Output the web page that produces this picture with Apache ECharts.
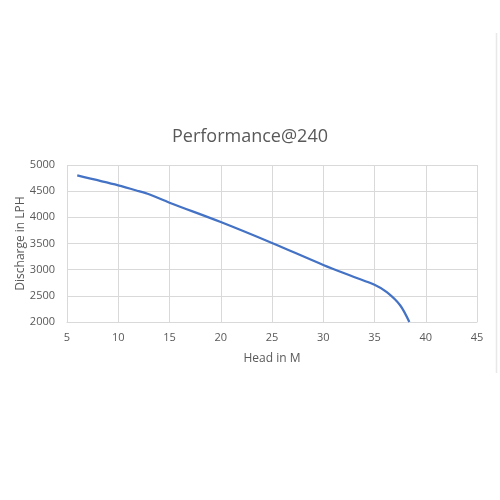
<!DOCTYPE html>
<html><head><meta charset="utf-8">
<script src="https://cdn.jsdelivr.net/npm/echarts@6/dist/echarts.min.js"></script>
<style>html,body{margin:0;padding:0;background:#fff;}#c{width:500px;height:500px;}</style>
</head><body><div id="c"></div>
<script>
const headM = [6, 10, 12, 13, 15, 20, 25, 30, 33, 35, 36.2, 37.5, 38.4];
const dischargeLPH = [4800, 4610, 4500, 4440, 4280, 3910, 3510, 3090, 2860, 2710, 2570, 2320, 2000];
const titleText = 'Performance@240';
const xName = 'Head in M';
const yName = 'Discharge in LPH';

const chart = echarts.init(document.getElementById('c'));
const font = '"Open Sans", "Liberation Sans", sans-serif';
chart.setOption({
  animation: false,
  backgroundColor: '#fff',
  title: { text: titleText, left: 'center', top: 123, textStyle: { fontFamily: font, fontSize: 18, fontWeight: 'normal', color: '#595959' } },
  grid: { left: 67, right: 23, top: 165, bottom: 178, containLabel: false, outerBoundsMode: 'none' },
  graphic: [{
    type: 'line', silent: true,
    shape: { x1: 496.5, y1: 33, x2: 496.5, y2: 373 },
    style: { stroke: '#e8e8e8', lineWidth: 1.5 }
  }],
  xAxis: {
    type: 'value', min: 5, max: 45, interval: 5,
    name: xName, nameLocation: 'middle', nameGap: 31, nameMoveOverlap: false,
    nameTextStyle: { fontFamily: font, fontSize: 12, color: '#595959' },
    axisLine: { show: true, lineStyle: { color: '#d9d9d9' } },
    axisTick: { show: false },
    axisLabel: { fontFamily: font, fontSize: 11, color: '#595959', margin: 10, formatter: v => String(v) },
    splitLine: { show: true, lineStyle: { color: '#d9d9d9' } }
  },
  yAxis: {
    type: 'value', min: 2000, max: 5000, interval: 500,
    name: yName, nameLocation: 'middle', nameGap: 40, nameMoveOverlap: false,
    nameTextStyle: { fontFamily: font, fontSize: 12, color: '#595959' },
    axisLine: { show: false },
    axisTick: { show: false },
    axisLabel: { fontFamily: font, fontSize: 11, color: '#595959', margin: 12, formatter: v => String(v) },
    splitLine: { show: true, lineStyle: { color: '#d9d9d9' } }
  },
  series: [{
    type: 'line', smooth: 0.3, showSymbol: false,
    data: headM.map((h, i) => [h, dischargeLPH[i]]),
    lineStyle: { color: '#4472C4', width: 2.25 }
  }]
});
</script></body></html>
